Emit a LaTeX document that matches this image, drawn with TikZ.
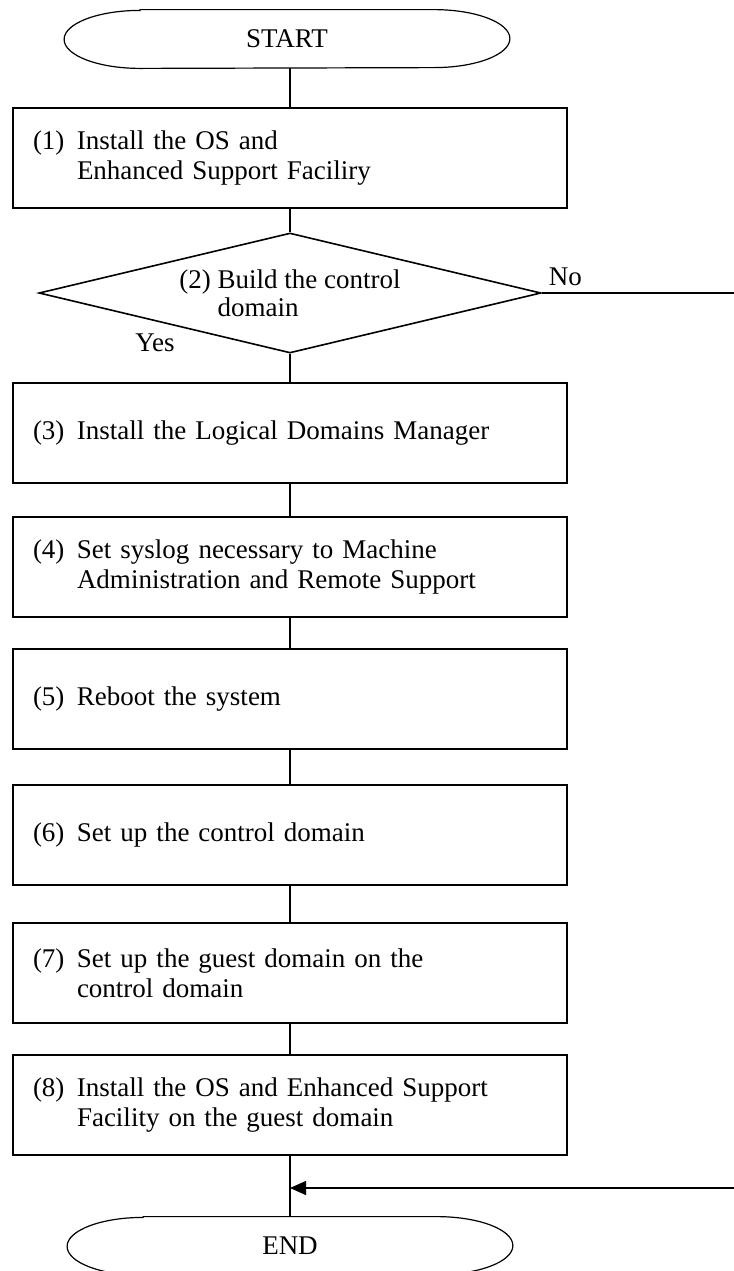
\documentclass[tikz,border=0pt]{standalone}
\usepackage{fontspec}
\setmainfont{Liberation Serif}
\usetikzlibrary{shapes.geometric,arrows.meta}

\tikzset{
	stepbox/.style={draw, line width=0.8pt, rectangle, minimum height=50pt, text width=257pt, inner xsep=10pt, inner ysep=0pt, align=left},
	decide/.style={draw, line width=0.8pt, diamond, aspect=4.2, minimum width=251pt, minimum height=60pt, inner sep=0pt, align=left, font=\fontsize{13.5}{14}\selectfont},
	termbox/.style={minimum width=222.5pt, minimum height=29pt, inner sep=0pt},
	flow/.style={line width=0.6pt},
}
\newcommand{\stepnum}[1]{\makebox[22pt][l]{(#1)}}
\newcommand{\stepgap}{\hspace*{22pt}}

\begin{document}
\begin{tikzpicture}[x=0.5pt, y=-0.5pt, font=\fontsize{13.5}{15}\selectfont, >={Triangle[length=8pt,width=7pt]}]
	\useasboundingbox (0,0) rectangle (734,1271);
	% start and end
	\node[termbox] (start) at (287,39) {START};
	\node[termbox] (end) at (290,1246) {END};
	\foreach \term in {start,end}
	\draw[flow] ([xshift=38pt]\term.north west) -- ([xshift=-38pt]\term.north east)
		arc[start angle=90, end angle=-90, x radius=38pt, y radius=14.5pt]
		-- ([xshift=38pt]\term.south west)
		arc[start angle=270, end angle=90, x radius=38pt, y radius=14.5pt] -- cycle;
	% steps
	\node[stepbox] (s1) at (290,158) {\stepnum{1}Install the OS and\\\stepgap Enhanced Support Faciliry};
	\node[decide] (s2) at (290,293) {(2) Build the control\\\hphantom{(2) }domain};
	\node[stepbox] (s3) at (290,433) {\stepnum{3}Install the Logical Domains Manager};
	\node[stepbox] (s4) at (290,567) {\stepnum{4}Set syslog necessary to Machine\\\stepgap Administration and Remote Support};
	\node[stepbox] (s5) at (290,699) {\stepnum{5}Reboot the system};
	\node[stepbox] (s6) at (290,835) {\stepnum{6}Set up the control domain};
	\node[stepbox] (s7) at (290,973) {\stepnum{7}Set up the guest domain on the\\\stepgap control domain};
	\node[stepbox] (s8) at (290,1105) {\stepnum{8}Install the OS and Enhanced Support\\\stepgap Facility on the guest domain};
	\node[anchor=south west] (no) at (s2.east) {No};
	\node (yes) at (155,343) {Yes};
	% connectors
	\draw[flow] (start.south -| s1.north) -- (s1.north);
	\foreach \a/\b in {s1/s2,s2/s3,s3/s4,s4/s5,s5/s6,s6/s7,s7/s8,s8/end}
	\draw[flow] (\a) -- (\b);
	\coordinate (noend) at (734,293);
	\coordinate (back) at (734,1188);
	\draw[flow] (s2.east) -- (noend);
	\draw[flow,->] (back) -- (back -| s8.south);
\end{tikzpicture}
\end{document}
